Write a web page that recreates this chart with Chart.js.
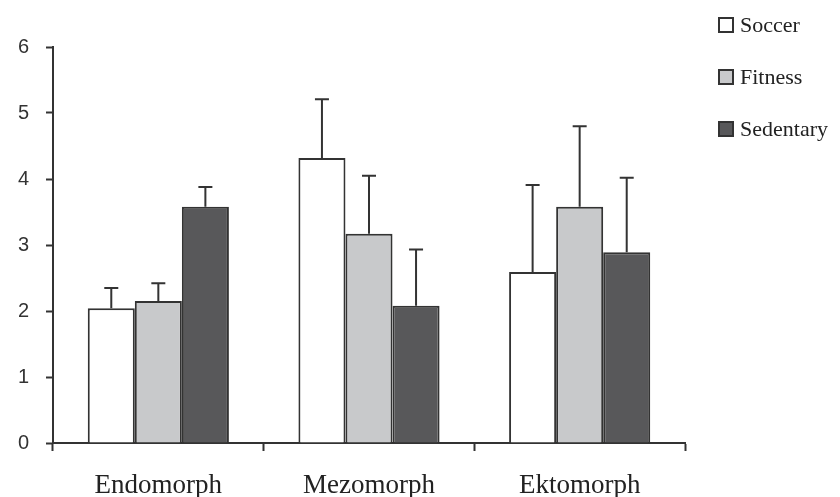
<!DOCTYPE html>
<html>
<head>
<meta charset="utf-8">
<script src="https://cdn.jsdelivr.net/npm/chart.js@4"></script>
<style>
  body { margin: 0; background: #fff; }
</style>
</head>
<body>
<canvas id="grafico" width="840" height="497"></canvas>
<script>
const categories = ['Endomorph', 'Mezomorph', 'Ektomorph'];
const seriesNames = ['Soccer', 'Fitness', 'Sedentary'];
const soccer = [2.04, 4.32, 2.59];
const fitness = [2.15, 3.17, 3.58];
const sedentary = [3.58, 2.08, 2.89];
const soccerErr = [0.31, 0.89, 1.32];
const fitnessErr = [0.27, 0.88, 1.22];
const sedentaryErr = [0.30, 0.85, 1.13];
const yTicks = [0, 1, 2, 3, 4, 5, 6];

const fills = ['#ffffff', '#c8c9cb', '#58585a'];
const ink = '#333333';

// error bars (upper only) drawn through the y scale
const errorBars = {
    id: 'errorBars',
    afterDatasetsDraw(chart) {
        const ctx = chart.ctx;
        const y = chart.scales.y;
        ctx.save();
        ctx.strokeStyle = ink;
        ctx.lineWidth = 2;
        chart.data.datasets.forEach((ds, i) => {
            chart.getDatasetMeta(i).data.forEach((bar, j) => {
                const top = y.getPixelForValue(ds.data[j] + ds.err[j]);
                ctx.beginPath();
                ctx.moveTo(bar.x, bar.y);
                ctx.lineTo(bar.x, top);
                ctx.moveTo(bar.x - 7, top);
                ctx.lineTo(bar.x + 7, top);
                ctx.stroke();
            });
        });
        ctx.restore();
    }
};

// legend at the top right, small boxes with serif text
const sideLegend = {
    id: 'sideLegend',
    afterDraw(chart) {
        const ctx = chart.ctx;
        ctx.save();
        ctx.font = '22px "Liberation Serif", serif';
        ctx.textBaseline = 'middle';
        chart.data.datasets.forEach((ds, i) => {
            const top = 18 + i * 52;
            ctx.fillStyle = ds.backgroundColor;
            ctx.fillRect(719, top, 14, 14);
            ctx.strokeStyle = ink;
            ctx.lineWidth = 2;
            ctx.strokeRect(719, top, 14, 14);
            ctx.fillStyle = '#222';
            ctx.fillText(ds.label, 740, top + 8);
        });
        ctx.restore();
    }
};

new Chart(document.getElementById('grafico'), {
    type: 'bar',
    data: {
        labels: categories,
        datasets: [
            { label: seriesNames[0], data: soccer, err: soccerErr, backgroundColor: fills[0] },
            { label: seriesNames[1], data: fitness, err: fitnessErr, backgroundColor: fills[1] },
            { label: seriesNames[2], data: sedentary, err: sedentaryErr, backgroundColor: fills[2] }
        ].map(d => Object.assign(d, {
            borderColor: ink,
            borderWidth: 2,
            categoryPercentage: 0.67,
            barPercentage: 1.0
        }))
    },
    options: {
        responsive: false,
        animation: false,
        layout: {
            padding: { left: 0, right: 155, top: 47, bottom: 0 }
        },
        scales: {
            y: {
                min: 0,
                max: 6,
                afterBuildTicks(scale) {
                    scale.ticks = yTicks.map(v => ({ value: v }));
                },
                afterFit(scale) {
                    scale.width = 53;
                },
                ticks: {
                    color: '#333',
                    padding: 17,
                    font: { size: 20, family: '"Liberation Sans", Arial' }
                },
                grid: {
                    drawOnChartArea: false,
                    tickLength: 7,
                    tickWidth: 2,
                    color: ink
                },
                border: { color: ink, width: 2 }
            },
            x: {
                afterFit(scale) {
                    scale.height = 54;
                },
                ticks: {
                    color: '#222',
                    padding: 21,
                    font: { size: 27, family: '"Liberation Serif", serif', lineHeight: 1 }
                },
                grid: {
                    drawOnChartArea: false,
                    tickLength: 8,
                    tickWidth: 2,
                    color: ink
                },
                border: { color: ink, width: 2 }
            }
        },
        plugins: {
            legend: { display: false },
            tooltip: { enabled: false }
        }
    },
    plugins: [errorBars, sideLegend]
});
</script>
</body>
</html>
